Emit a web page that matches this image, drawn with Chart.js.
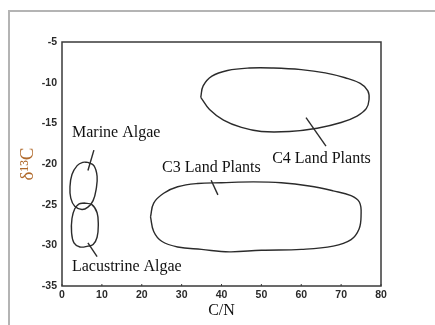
<!DOCTYPE html>
<html>
<head>
<meta charset="utf-8">
<script src="https://cdn.jsdelivr.net/npm/chart.js@4/dist/chart.umd.min.js"></script>
<style>
    html, body { margin: 0; padding: 0; background: #fff; overflow: hidden; }
    #wrap { position: relative; width: 435px; height: 325px; }
    #marco {
        position: absolute; left: 8px; top: 10px;
        width: 500px; height: 400px;
        border: 2px solid #b4b4b4; pointer-events: none;
    }
</style>
</head>
<body>
<div id="wrap">
    <canvas id="grafico" width="435" height="325"></canvas>
    <div id="marco"></div>
</div>
<script>
// Contornos de cada grupo (C/N, δ13C)
const c4X = [34.8, 35.4, 37.6, 41.5, 47, 53, 60, 66, 71, 74.8, 76.7, 77, 76.3, 74, 70, 64, 57, 50, 45, 40.5, 37, 34.8];
const c4Y = [-11.8, -10.4, -9.2, -8.5, -8.2, -8.2, -8.4, -8.8, -9.4, -10.1, -11, -12.1, -13.2, -14.1, -14.9, -15.6, -16.0, -16.0, -15.5, -14.6, -13.3, -11.8];

const c3X = [22.2, 23, 25.5, 29, 34, 40, 48, 55, 62, 68, 72.5, 74.6, 75, 74.5, 72.5, 68, 60, 50, 42, 35, 29, 25, 23, 22.2];
const c3Y = [-26.5, -24.8, -23.6, -22.8, -22.4, -22.3, -22.2, -22.3, -22.7, -23.3, -23.9, -24.7, -26.3, -28, -29.3, -30.1, -30.5, -30.6, -30.8, -30.5, -30.2, -29.5, -28.3, -26.5];

const marinaX = [6.5, 8, 8.8, 8.6, 7.8, 6.5, 5, 3.2, 2.2, 2, 2.5, 3.8, 5.2, 6.5];
const marinaY = [-19.8, -20.2, -21.5, -23, -24.5, -25.3, -25.6, -25.2, -24.2, -22.8, -21.3, -20.2, -19.8, -19.8];

const lacustreX = [5.5, 7.5, 8.8, 9.1, 8.8, 7.8, 6.5, 4.5, 3, 2.4, 2.5, 3.2, 4.3, 5.5];
const lacustreY = [-24.8, -25, -26, -27.5, -29, -29.9, -30.1, -30.2, -29.7, -28.4, -26.7, -25.5, -24.9, -24.8];

// Líneas guía desde cada etiqueta hasta su contorno
const guiaMarinaX = [8.0, 6.5];
const guiaMarinaY = [-18.3, -20.8];
const guiaLacustreX = [6.5, 8.8];
const guiaLacustreY = [-29.7, -31.4];
const guiaC3X = [37.4, 39.1];
const guiaC3Y = [-22.0, -23.8];
const guiaC4X = [61.2, 66.2];
const guiaC4Y = [-14.3, -17.8];

// Etiquetas (texto, x, y en unidades de datos; borde izquierdo, centro vertical)
const etiquetas = ['Marine Algae', 'Lacustrine Algae', 'C3 Land Plants', 'C4 Land Plants'];
const etiquetaX = [2.5, 2.5, 25.1, 52.7];
const etiquetaY = [-16.2, -32.7, -20.5, -19.3];

const ticksX = [0, 10, 20, 30, 40, 50, 60, 70, 80];
const ticksY = [-35, -30, -25, -20, -15, -10, -5];

function puntos(xs, ys) {
    return xs.map((x, i) => ({ x: x, y: ys[i] }));
}

function serie(xs, ys, curva) {
    return {
        data: puntos(xs, ys),
        showLine: true,
        pointRadius: 0,
        borderColor: '#2b2b2b',
        borderWidth: 1.4,
        tension: curva ? 0.4 : 0,
        fill: false
    };
}

const textoPlugin = {
    id: 'etiquetas',
    afterDatasetsDraw(chart) {
        const { ctx, chartArea, scales } = chart;
        ctx.save();
        // marco del área de datos
        ctx.strokeStyle = '#3a3a3a';
        ctx.lineWidth = 1.5;
        ctx.strokeRect(chartArea.left, chartArea.top,
            chartArea.right - chartArea.left, chartArea.bottom - chartArea.top);

        // marcas cortas hacia dentro en el eje inferior
        ctx.lineWidth = 1;
        ticksX.forEach(v => {
            const px = scales.x.getPixelForValue(v);
            ctx.beginPath();
            ctx.moveTo(px, chartArea.bottom);
            ctx.lineTo(px, chartArea.bottom - 2);
            ctx.stroke();
        });

        ctx.fillStyle = '#111';
        ctx.font = '16px "Liberation Serif", "Times New Roman", serif';
        ctx.textAlign = 'left';
        ctx.textBaseline = 'middle';
        etiquetas.forEach((t, i) => {
            ctx.fillText(t, scales.x.getPixelForValue(etiquetaX[i]),
                scales.y.getPixelForValue(etiquetaY[i]));
        });
        ctx.restore();
    }
};

const fuenteTicks = { family: '"Liberation Sans", Arial, sans-serif', size: 10.5, weight: 'bold' };

const ctx = document.getElementById('grafico').getContext('2d');
new Chart(ctx, {
    type: 'scatter',
    data: {
        datasets: [
            serie(c4X, c4Y, true),
            serie(c3X, c3Y, true),
            serie(marinaX, marinaY, true),
            serie(lacustreX, lacustreY, true),
            serie(guiaMarinaX, guiaMarinaY, false),
            serie(guiaLacustreX, guiaLacustreY, false),
            serie(guiaC3X, guiaC3Y, false),
            serie(guiaC4X, guiaC4Y, false)
        ]
    },
    options: {
        responsive: false,
        animation: false,
        devicePixelRatio: 1,
        layout: { padding: { left: 0, right: 54, top: 42, bottom: 0 } },
        plugins: {
            legend: { display: false },
            tooltip: { enabled: false }
        },
        scales: {
            x: {
                type: 'linear',
                min: 0,
                max: 80,
                afterBuildTicks: (s) => { s.ticks = ticksX.map(v => ({ value: v })); },
                afterFit: (s) => { s.height = 39; },
                grid: { display: false, tickLength: 0 },
                border: { display: false },
                ticks: {
                    color: '#2a2a2a',
                    padding: 3,
                    maxRotation: 0,
                    font: fuenteTicks
                },
                title: {
                    display: true,
                    text: 'C/N',
                    color: '#111',
                    padding: { top: 0, bottom: 5 },
                    font: { family: '"Liberation Serif", "Times New Roman", serif', size: 16 }
                }
            },
            y: {
                type: 'linear',
                min: -35,
                max: -5,
                afterBuildTicks: (s) => { s.ticks = ticksY.map(v => ({ value: v })); },
                afterFit: (s) => { s.width = 62; },
                grid: { display: false, tickLength: 0 },
                border: { display: false },
                ticks: {
                    color: '#2a2a2a',
                    padding: 5,
                    font: fuenteTicks
                },
                title: {
                    display: true,
                    text: 'δ¹³C',
                    color: '#b06a2c',
                    padding: { top: 17, bottom: 0 },
                    font: { family: '"Liberation Serif", "Times New Roman", serif', size: 19 }
                }
            }
        }
    },
    plugins: [textoPlugin]
});
</script>
</body>
</html>
